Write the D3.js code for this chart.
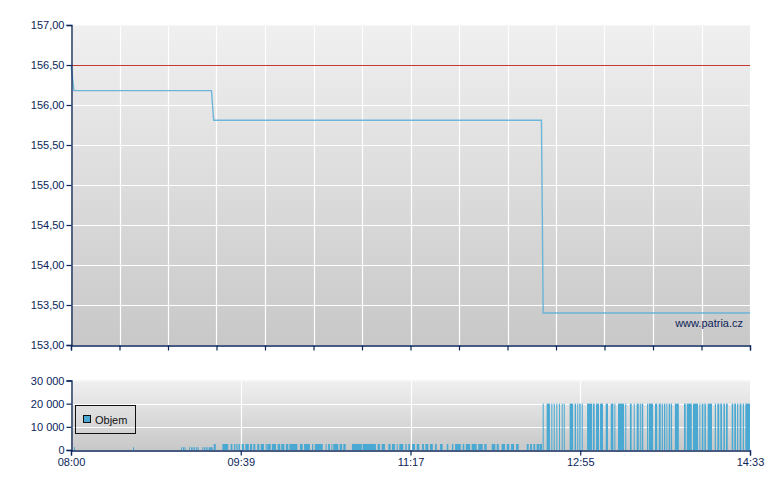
<!DOCTYPE html>
<html><head><meta charset="utf-8">
<script src="https://cdn.jsdelivr.net/npm/d3@7"></script>
<style>
html,body{margin:0;padding:0;background:#fff;}
svg{display:block;font-family:"Liberation Sans",Arial,sans-serif;}
</style></head>
<body>
<svg id="c" width="780" height="490"></svg>
<script>
// ---- data (minutes after 08:00) ----
const sessionMinutes = 393;               // 08:00 .. 14:33
const priceTimes  = [0, 1.7, 81.3, 82.6, 272.3, 273.3, 393];
const priceValues = [156.50, 156.18, 156.18, 155.81, 155.81, 153.40, 153.40];
const refPrice = 156.50;
const priceTicks = [153, 153.5, 154, 154.5, 155, 155.5, 156, 156.5, 157];
const volTicks = [0, 10000, 20000, 30000];
const timeLabels = ["08:00", "09:39", "11:17", "12:55", "14:33"];
const legendLabel = "Objem";
const watermark = "www.patria.cz";

// volume runs [start, end] in minutes, by level
const volLevelSmall = 1200;
const volRunsSmall = [[1.7,2.3],[35.9,36.5],[63.7,64.3],[64.8,65.4],[65.7,66.3],[68.3,68.9],[69.5,70.1],[70.3,70.9],
  [71.2,71.8],[72.4,73.0],[73.2,73.8],[76.0,76.6],[77.0,77.6],[78.0,78.6],[78.9,79.5],[79.9,82.0]];
const volLevelMid = 2600;
const volRunsMid = [[82.6,83.8],[87.6,91.0],[92.4,93.4],[94.3,94.9],[95.3,95.9],[96.3,96.9],[97.2,97.8],[98.8,100.1],
  [100.9,102.9],[103.6,104.8],[105.5,106.7],[107.8,109.0],[109.8,111.7],[112.7,113.3],[113.6,115.6],[116.3,118.7],
  [119.6,121.1],[121.7,123.5],[124.4,125.8],[126.4,131.0],[132.5,134.1],[134.9,138.3],[139.5,140.2],[141.1,145.7],
  [147.4,148.0],[148.8,149.9],[150.7,151.2],[151.8,154.7],[155.5,156.9],[157.6,159.0],[162.6,168.3],[168.8,176.5],
  [177.5,178.8],[179.8,181.7],[183.7,185.0],[185.8,187.5],[188.5,189.1],[190.0,192.3],[193.5,194.3],[195.2,196.2],
  [197.4,199.1],[200.1,201.6],[203.2,204.3],[205.1,206.8],[207.8,209.4],[210.7,211.7],[213.6,215.1],[217.5,218.4],
  [220.5,221.3],[222.3,225.6],[226.7,227.6],[228.5,231.0],[231.9,234.8],[235.7,238.3],[239.2,240.6],[243.5,245.6],
  [246.4,247.6],[249.3,251.2],[252.2,253.7],[254.7,256.4],[257.6,259.1],[263.8,264.9],[265.7,266.8],[267.6,268.7],
  [269.5,271.1],[271.3,272.6]];
const volLevelLarge = 20000;
const volRunsLarge = [[273.0,273.6],[275.3,277.2],[278.0,278.6],[279.4,280.0],[280.9,281.5],[282.4,283.0],[284.0,284.4],
  [285.2,285.7],[288.6,290.6],[291.5,292.3],[293.0,293.6],[294.2,295.0],[295.6,296.2],[298.7,301.6],[302.1,303.1],
  [303.9,305.6],[306.2,307.9],[309.5,310.8],[312.4,313.9],[314.5,314.9],[316.6,320.1],[320.8,321.4],[323.5,324.5],
  [325.7,326.3],[327.4,328.6],[329.2,329.8],[330.3,331.2],[333.4,334.1],[334.5,336.9],[338.0,339.3],[340.2,341.3],
  [341.9,342.6],[343.2,344.0],[344.6,345.1],[345.9,346.7],[347.1,347.9],[349.5,351.8],[354.8,355.8],[356.4,359.3],
  [360.0,362.9],[363.7,364.2],[365.1,366.0],[366.6,367.5],[368.5,371.0],[372.6,373.3],[374.1,375.2],[375.8,376.8],
  [377.6,378.5],[379.1,380.1],[382.4,383.3],[383.9,384.9],[385.5,386.2],[387.0,388.0],[388.8,389.5],[390.3,393.0]];

// ---- drawing ----
const svg = d3.select("#c");
const navy = "#0b2559";
const barColor = "#4aa9d2";
const L = 71, R = 750;
const x = d3.scaleLinear().domain([0, sessionMinutes]).range([L, R]);
const y = d3.scaleLinear().domain([153, 157]).range([345, 25]);
const yv = d3.scaleLinear().domain([0, 30000]).range([450, 380.5]);

const defs = svg.append("defs");
function grad(id){
  const g = defs.append("linearGradient").attr("id", id).attr("x1",0).attr("y1",0).attr("x2",0).attr("y2",1);
  g.append("stop").attr("offset","0%").attr("stop-color","#f0f0f0");
  g.append("stop").attr("offset","100%").attr("stop-color","#c8c8c8");
}
grad("g1"); grad("g2");

// ===== price panel =====
const p = svg.append("g");
p.append("rect").attr("x", L).attr("y", y(157)).attr("width", R - L).attr("height", y(153) - y(157)).attr("fill", "url(#g1)");
const xGrid = d3.range(0, 15).map(i => i * sessionMinutes / 14);
p.append("g").selectAll("line").data(xGrid.slice(1)).join("line")
  .attr("x1", d => Math.round(x(d)) + 0.5).attr("x2", d => Math.round(x(d)) + 0.5)
  .attr("y1", y(157)).attr("y2", y(153)).attr("stroke", "#fff").attr("stroke-width", 1.2);
p.append("g").selectAll("line").data(priceTicks.slice(1, -1)).join("line")
  .attr("x1", L).attr("x2", R).attr("y1", d => Math.round(y(d)) + 0.5).attr("y2", d => Math.round(y(d)) + 0.5)
  .attr("stroke", "#fff").attr("stroke-width", 1.2);
p.append("line").attr("x1", L).attr("x2", R).attr("y1", y(157) + 0.5).attr("y2", y(157) + 0.5).attr("stroke", "#f6f6f6");
// reference line
p.append("line").attr("x1", L).attr("x2", R).attr("y1", Math.round(y(refPrice)) + 0.5).attr("y2", Math.round(y(refPrice)) + 0.5)
  .attr("stroke", "#c43a36").attr("stroke-width", 1);
// price line
const pts = priceTimes.map((t, i) => [t, priceValues[i]]);
p.append("path").datum(pts)
  .attr("d", d3.line().x(d => x(d[0])).y(d => y(d[1])))
  .attr("fill", "none").attr("stroke", "#5fb0d8").attr("stroke-width", 1.4).attr("stroke-opacity", 0.9);
// watermark
p.append("text").attr("x", 743).attr("y", 327).attr("text-anchor", "end")
  .attr("font-size", 11).attr("fill", navy).text(watermark);
// axes
const yAxis = d3.axisLeft(y).tickValues(priceTicks).tickSize(5).tickPadding(2)
  .tickFormat(d => d3.format(".2f")(d).replace(".", ","));
const ya = p.append("g").attr("transform", `translate(${L + 0.5},0)`).call(yAxis);
const xAxisTop = d3.axisBottom(x).tickValues(xGrid).tickSize(5).tickFormat("");
const xa = p.append("g").attr("transform", `translate(0,${y(153) + 0.5})`).call(xAxisTop);

// ===== volume panel =====
const v = svg.append("g");
v.append("rect").attr("x", L).attr("y", yv(30000)).attr("width", R - L).attr("height", yv(0) - yv(30000)).attr("fill", "url(#g2)");
const vTickPos = d3.range(0, 5).map(i => i * sessionMinutes / 4);
v.append("g").selectAll("line").data(vTickPos.slice(1, -1)).join("line")
  .attr("x1", d => Math.round(x(d)) + 0.5).attr("x2", d => Math.round(x(d)) + 0.5)
  .attr("y1", yv(30000)).attr("y2", yv(0)).attr("stroke", "#fff").attr("stroke-width", 1.2);
v.append("g").selectAll("line").data([10000, 20000]).join("line")
  .attr("x1", L).attr("x2", R).attr("y1", d => Math.round(yv(d)) + 0.5).attr("y2", d => Math.round(yv(d)) + 0.5)
  .attr("stroke", "#fff").attr("stroke-width", 1.2);
v.append("line").attr("x1", L).attr("x2", R).attr("y1", yv(30000) + 0.5).attr("y2", yv(30000) + 0.5).attr("stroke", "#f6f6f6");

const bars = [].concat(
  volRunsSmall.map(r => [r[0], r[1], volLevelSmall]),
  volRunsMid.map(r => [r[0], r[1], volLevelMid]),
  volRunsLarge.map(r => [r[0], r[1], volLevelLarge]));
v.append("g").selectAll("rect").data(bars).join("rect")
  .attr("x", d => x(d[0]))
  .attr("width", d => Math.max(1, x(d[1]) - x(d[0])))
  .attr("y", d => yv(d[2]))
  .attr("height", d => yv(0) - yv(d[2]))
  .attr("fill", barColor);

const yvAxis = d3.axisLeft(yv).tickValues(volTicks).tickSize(5).tickPadding(2)
  .tickFormat(d => d3.format(",")(d).replace(/,/g, " "));
const yva = v.append("g").attr("transform", `translate(${L + 0.5},0)`).call(yvAxis);
const xvAxis = d3.axisBottom(x).tickValues(vTickPos).tickSize(5).tickPadding(3)
  .tickFormat((d, i) => timeLabels[i]);
const xva = v.append("g").attr("transform", `translate(0,${yv(0) + 0.5})`).call(xvAxis);

// legend
const lg = v.append("g");
lg.append("rect").attr("x", 75.5).attr("y", 405.5).attr("width", 60).attr("height", 28)
  .attr("fill", "none").attr("stroke", "#111").attr("stroke-width", 1);
lg.append("rect").attr("x", 83.5).attr("y", 415.5).attr("width", 7).attr("height", 7)
  .attr("fill", barColor).attr("stroke", "#111").attr("stroke-width", 1);
lg.append("text").attr("x", 95).attr("y", 424).attr("font-size", 11).attr("fill", "#111").text(legendLabel);

// axis styling
svg.selectAll(".domain").attr("stroke", navy).attr("stroke-width", 1.3);
svg.selectAll(".tick line").attr("stroke", navy).attr("stroke-width", 1.2);
svg.selectAll(".tick text").attr("fill", navy).attr("font-size", 11)
  .attr("font-family", "'Liberation Sans', Arial, sans-serif");
svg.selectAll("path.domain").each(function(){
  // remove outer tick extension of domain paths
  const d = d3.select(this).attr("d");
  d3.select(this).attr("d", d.replace(/M[-\d.]+,[-\d.]+V/, m => m));
});
</script>
</body></html>
